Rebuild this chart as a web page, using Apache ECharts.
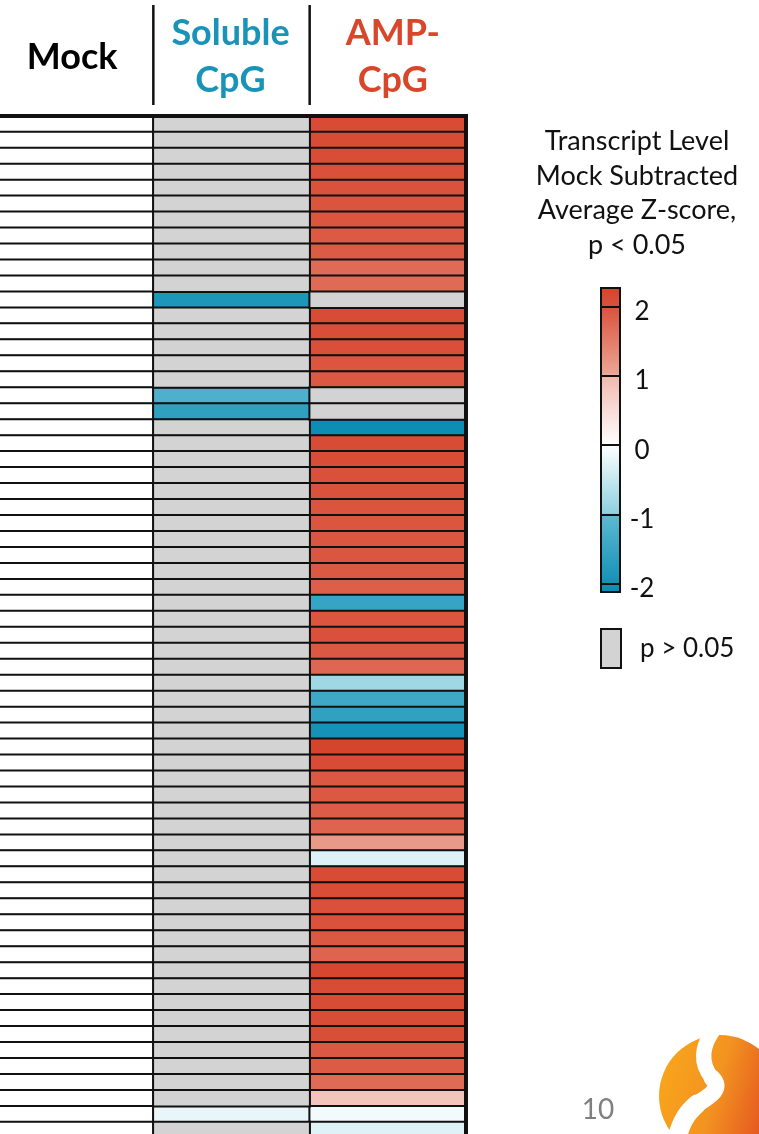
<!DOCTYPE html>
<html><head><meta charset="utf-8">
<script src="https://cdn.jsdelivr.net/npm/echarts@6/dist/echarts.min.js"></script>
<style>html,body{margin:0;padding:0;background:#fff}#c{width:759px;height:1134px}</style>
</head><body><div id="c"></div>
<script>
// ---------------- data ----------------
const columns = ['Mock', 'Soluble\nCpG', 'AMP-\nCpG'];
const rowIds = Array.from({length: 64}, (_, i) => 'T' + (i + 1));
// Mock-subtracted average z-scores (null = p > 0.05, drawn grey)
const mockZ = [0,0,0,0,0,0,0,0,0,0, 0,0,0,0,0,0,0,0,0,0, 0,0,0,0,0,0,0,0,0,0,
               0,0,0,0,0,0,0,0,0,0, 0,0,0,0,0,0,0,0,0,0, 0,0,0,0,0,0,0,0,0,0, 0,0,0,0];
const solubleZ = [null,null,null,null,null,null,null,null,null,null,
                  null,-1.88,null,null,null,null,null,-1.22,-1.62,null,
                  null,null,null,null,null,null,null,null,null,null,
                  null,null,null,null,null,null,null,null,null,null,
                  null,null,null,null,null,null,null,null,null,null,
                  null,null,null,null,null,null,null,null,null,null,
                  null,null,-0.2,null];
const ampZ = [2.13, 2.12, 2.09, 2.03, 2.0, 1.98, 1.97, 1.91, 1.9, 1.72,
              1.72, null, 2.13, 2.08, 2.05, 1.97, 1.93, null, null, -2.1,
              2.14, 2.09, 2.02, 2.0, 1.98, 1.97, 1.95, 1.95, 1.93, 1.86,
              -1.53, 1.97, 2.03, 1.93, 1.76, -0.83, -1.42, -1.6, -1.98, 2.3,
              2.13, 1.93, 1.92, 1.88, 1.79, 1.17, -0.3, 2.13, 2.09, 2.03,
              2.0, 1.93, 1.79, 2.21, 2.13, 2.13, 2.09, 2.08, 1.93, 1.9,
              1.71, 0.84, -0.11, -0.28];
const scaleMin = -2.12, scaleMax = 2.27;
const legendTitle = 'Transcript Level\nMock Subtracted\nAverage Z-score,\np < 0.05';
const greyLabel = 'p > 0.05';
const pageNumber = '10';

// ---------------- colour scale (style) ----------------
const scaleStops = [[-2.12,'#0a8cb4'],[-2,'#1391b6'],[-1.001,'#5eb9d1'],[-1,'#8ccfe0'],
  [0,'#ffffff'],[1,'#f0b9ae'],[1.001,'#eca797'],[2,'#da523c'],[2.27,'#d6442c']];
function hex2rgb(h){return [1,3,5].map(i=>parseInt(h.substr(i,2),16));}
function colorAt(v){
  for(let i=0;i<scaleStops.length-1;i++){
    const [v0,c0]=scaleStops[i],[v1,c1]=scaleStops[i+1];
    if(v<=v1||i===scaleStops.length-2){
      const t=Math.max(0,Math.min(1,(v-v0)/(v1-v0)));
      const a=hex2rgb(c0),b=hex2rgb(c1);
      return 'rgb('+a.map((x,k)=>Math.round(x+(b[k]-x)*t)).join(',')+')';
    }
  }
}
const rampColors=[];
for(let i=0;i<=439;i++){rampColors.push(colorAt(scaleMin+(scaleMax-scaleMin)*i/439));}

// ---------------- build cells ----------------
const colSeries=[mockZ,solubleZ,ampZ];
const sigCells=[], greyCells=[];
colSeries.forEach((arr,c)=>arr.forEach((v,r)=>{
  if(v===null) greyCells.push([c,r,0]); else sigCells.push([c,r,v]);
}));

// ---------------- layout ----------------
const gridLeft=-3, gridTop=116, gridWidth=469, rowH=15.97;
const colW=gridWidth/columns.length;
const barLeft=601, barTop=288, barW=19, barH=304;
const FONT='Lato';
const richKeys=['m','s','a'];

const chart=echarts.init(document.getElementById('c'),null,{renderer:'canvas'});
chart.setOption({
  animation:false,
  backgroundColor:'#fff',
  title:{text:legendTitle,left:637,top:124,textAlign:'center',padding:0,
    textStyle:{fontFamily:FONT,fontSize:27,fontWeight:'normal',color:'#111',lineHeight:34.7}},
  grid:[
    {left:gridLeft,top:gridTop,width:gridWidth,height:rowH*rowIds.length,show:true,
     outerBoundsMode:'none',containLabel:false,
     borderColor:'#111',borderWidth:4,backgroundColor:'transparent',z:5},
    {left:barLeft,top:barTop,width:barW,height:barH,show:true,borderColor:'#111',borderWidth:2,
     outerBoundsMode:'none',containLabel:false,
     backgroundColor:'transparent',z:10}
  ],
  xAxis:[
    {type:'category',gridIndex:0,data:columns,position:'top',
     axisLine:{show:false},axisTick:{show:false},splitLine:{show:false},
     axisLabel:{interval:0,margin:59,verticalAlign:'middle',
       formatter:(v,i)=>v.split('\n').map(l=>'{'+richKeys[i]+'|'+l+'}').join('\n'),
       rich:{
         m:{fontFamily:FONT,fontSize:36,fontWeight:'bold',color:'#000',lineHeight:47,padding:[0,6,0,0]},
         s:{fontFamily:FONT,fontSize:36,fontWeight:'bold',color:'#1a93b9',lineHeight:47,padding:[0,2,0,0]},
         a:{fontFamily:FONT,fontSize:36,fontWeight:'bold',color:'#d9472b',lineHeight:47,padding:[0,0,0,10]}
       }}},
    {type:'value',gridIndex:1,show:false,min:0,max:1}
  ],
  yAxis:[
    {type:'category',gridIndex:0,data:rowIds,inverse:true,show:false},
    {type:'value',gridIndex:1,min:scaleMin,max:scaleMax,position:'right',z:11,
     axisLine:{show:false},axisTick:{show:false},
     splitLine:{show:true,lineStyle:{color:'#111',width:2}},
     axisLabel:{show:true,showMinLabel:false,showMaxLabel:false,margin:22,align:'center',
       verticalAlign:'top',lineHeight:10,
       fontFamily:FONT,fontSize:26,color:'#111'}}
  ],
  visualMap:[
    {type:'continuous',seriesIndex:0,min:scaleMin,max:scaleMax,calculable:false,
     left:barLeft,top:barTop,itemWidth:barW,itemHeight:barH,padding:0,hoverLink:false,
     inRange:{color:rampColors}},
    {type:'continuous',seriesIndex:1,show:false,min:0,max:1,inRange:{color:['#d3d3d3','#d3d3d3']}}
  ],
  legend:{data:[{name:greyLabel,icon:'rect',itemStyle:{color:'#d3d3d3',borderColor:'#111',borderWidth:2}}],
    left:600,top:628,itemWidth:20,itemHeight:39,selectedMode:false,padding:0,
    textStyle:{fontFamily:FONT,fontSize:26,color:'#111',padding:[0,0,0,14]}},
  series:[
    {type:'heatmap',name:'z',xAxisIndex:0,yAxisIndex:0,data:sigCells,
     itemStyle:{borderColor:'#111',borderWidth:2},emphasis:{disabled:true}},
    {type:'heatmap',name:greyLabel,xAxisIndex:0,yAxisIndex:0,data:greyCells,
     itemStyle:{color:'#d3d3d3',borderColor:'#111',borderWidth:2},emphasis:{disabled:true}}
  ],
  graphic:[
    {type:'line',shape:{x1:gridLeft+colW,y1:5,x2:gridLeft+colW,y2:105},style:{stroke:'#111',lineWidth:2.5}},
    {type:'line',shape:{x1:gridLeft+2*colW,y1:5,x2:gridLeft+2*colW,y2:105},style:{stroke:'#111',lineWidth:2.5}},
    {type:'text',x:598,y:1110,style:{text:pageNumber,fill:'#7f7f7f',fontFamily:FONT,fontSize:28,align:'center',verticalAlign:'middle'}},
    {type:'circle',shape:{cx:720,cy:1096,r:61},
     style:{fill:new echarts.graphic.LinearGradient(0,0,1,0.3,[{offset:0,color:'#f9a81b'},{offset:0.55,color:'#f39320'},{offset:1,color:'#e4561f'}])}},
    {type:'bezierCurve',shape:{x1:715,y1:1028,cpx1:702,cpy1:1045,cpx2:699,cpy2:1062,x2:712,y2:1078},
     style:{fill:null,stroke:'#fff',lineWidth:15,lineCap:'round'}},
    {type:'bezierCurve',shape:{x1:712,y1:1078,cpx1:722,cpy1:1088,cpx2:712,cpy2:1095,x2:697,y2:1104},
     style:{fill:null,stroke:'#fff',lineWidth:17,lineCap:'round'}},
    {type:'bezierCurve',shape:{x1:697,y1:1104,cpx1:685,cpy1:1114,cpx2:680,cpy2:1125,x2:676,y2:1142},
     style:{fill:null,stroke:'#fff',lineWidth:19,lineCap:'round'}}
  ]
});
</script></body></html>
